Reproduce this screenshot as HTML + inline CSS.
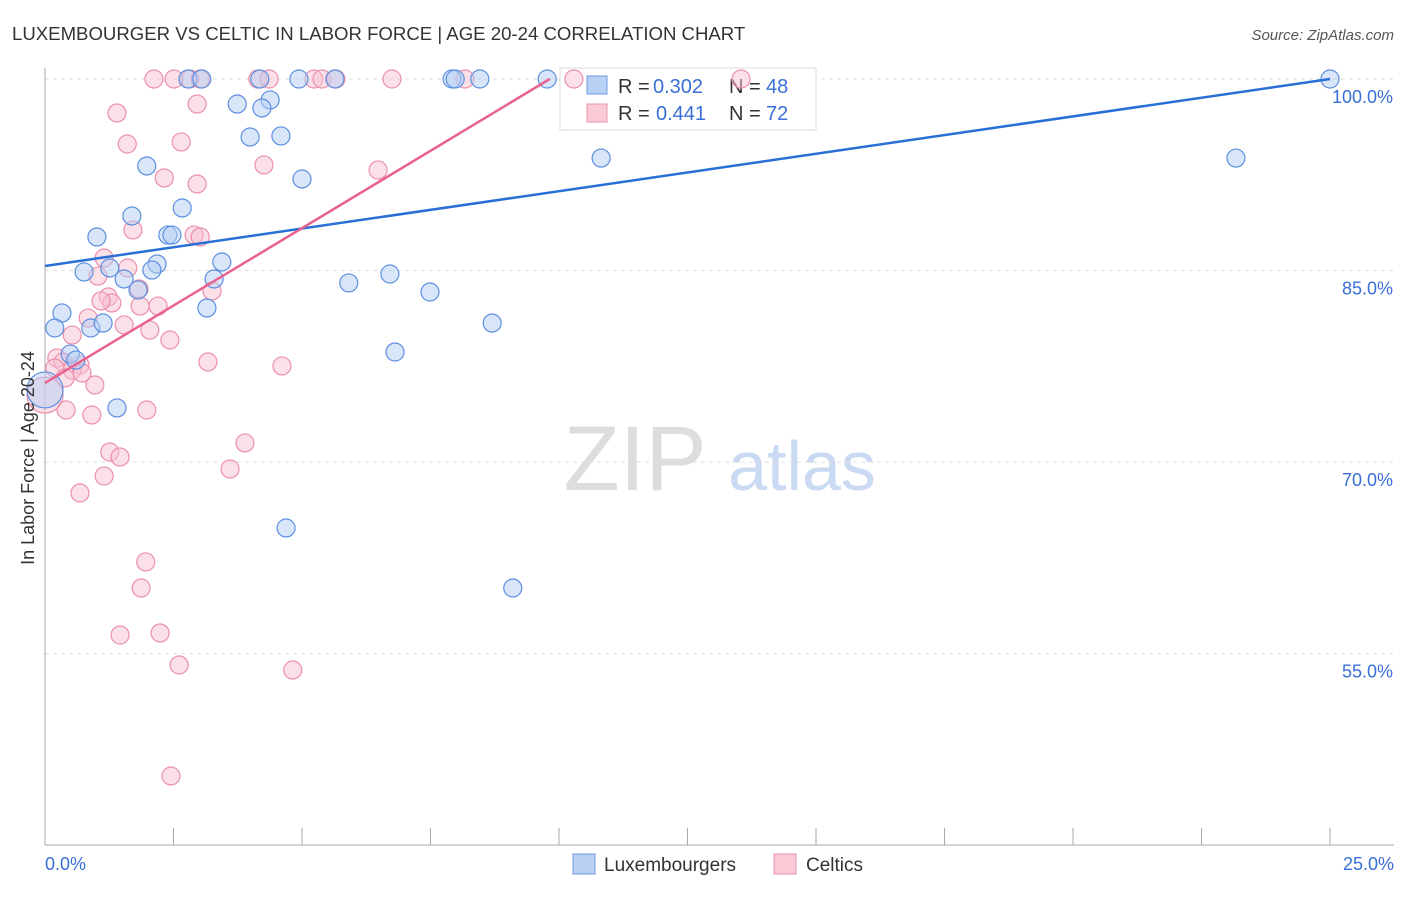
<!DOCTYPE html>
<html><head><meta charset="utf-8"><style>
body{margin:0;background:#fff;font-family:"Liberation Sans",sans-serif}
svg text{font-family:"Liberation Sans",sans-serif}
</style></head><body>
<svg id="chart" width="1406" height="892" xmlns="http://www.w3.org/2000/svg">
<text x="12" y="40" font-size="18.6" fill="#333">LUXEMBOURGER VS CELTIC IN LABOR FORCE | AGE 20-24 CORRELATION CHART</text>
<text x="1394" y="40" font-size="15" fill="#555" font-style="italic" text-anchor="end">Source: ZipAtlas.com</text>
<g>
<text x="635" y="490" font-size="92" fill="#ddd" font-family="Liberation Serif" text-anchor="middle">ZIP</text>
<text x="802" y="490" font-size="70" fill="#c9daf2" text-anchor="middle">atlas</text>
</g>
<g id="grid"></g><g id="axes"></g>
<g>
<rect x="560" y="68" width="256" height="62" fill="#fff" stroke="#ddd"/>
<rect x="587" y="76" width="20" height="18" fill="#b8d0f4" stroke="#6d9be0"/>
<rect x="587" y="104" width="20" height="18" fill="#f9c9d6" stroke="#ec94ae"/>
<text x="618" y="93" font-size="20" fill="#333">R =</text>
<text x="653" y="93" font-size="20" fill="#3a6fd8">0.302</text>
<text x="729" y="93" font-size="20" fill="#333">N =</text>
<text x="766" y="93" font-size="20" fill="#3a6fd8">48</text>
<text x="618" y="120" font-size="20" fill="#333">R =</text>
<text x="656" y="120" font-size="20" fill="#3a6fd8">0.441</text>
<text x="729" y="120" font-size="20" fill="#333">N =</text>
<text x="766" y="120" font-size="20" fill="#3a6fd8">72</text>
</g>
<g id="pts"></g><g id="lines"></g>
<text x="34" y="458" font-size="18" fill="#333" text-anchor="middle" transform="rotate(-90 34 458)">In Labor Force | Age 20-24</text>
<g>
<rect x="573" y="854" width="22" height="20" fill="#b8d0f4" stroke="#6d9be0"/>
<text x="604" y="871" font-size="19" fill="#333">Luxembourgers</text>
<rect x="774" y="854" width="22" height="20" fill="#f9c9d6" stroke="#ec94ae"/>
<text x="806" y="871" font-size="19" fill="#333">Celtics</text>
</g>
</svg>
<script>
const yTicks=[100,85,70,55];
const yTickLabels=["100.0%","85.0%","70.0%","55.0%"];
const xTicks=[0,2.5,5,7.5,10,12.5,15,17.5,20,22.5,25];
const blueX=[2.78,3.05,4.18,4.94,5.64,7.92,7.98,8.46,9.77,25.0,3.74,4.38,4.22,3.99,4.59,10.82,23.17,1.98,5.0,2.67,1.69,1.01,2.39,2.47,2.18,1.26,2.08,0.76,3.44,1.54,3.29,1.81,5.91,6.71,7.49,3.15,0.33,0.19,0.89,1.13,8.7,6.81,0.49,0.6,1.4,4.69,9.1,0];
const blueY=[100,100,100,100,100,100,100,100,100,100,98.04,98.36,97.73,95.46,95.54,93.81,93.81,93.19,92.17,89.9,89.27,87.63,87.78,87.78,85.51,85.2,85.04,84.89,85.67,84.34,84.34,83.48,84.03,84.73,83.32,82.07,81.68,80.5,80.5,80.89,80.89,78.62,78.46,77.99,74.24,64.84,60.14,75.65];
const pinkX=[2.12,2.51,2.82,3.02,4.14,4.36,5.23,5.39,5.66,6.75,8.17,10.29,13.54,1.4,2.96,1.6,2.65,2.32,2.96,4.26,6.48,1.71,2.9,3.02,1.15,1.61,1.03,1.23,1.3,1.09,1.83,2.2,1.85,3.25,0.84,1.54,2.04,0.53,2.43,0.23,0.35,0.68,0.53,0.19,0.72,3.17,4.61,0.39,0.97,0.41,0.91,1.98,3.89,1.26,1.46,1.15,3.6,0.68,1.96,1.87,1.46,2.24,2.61,4.82,2.45,0];
const pinkY=[100,100,100,100,100,100,100,100,100,100,100,100,100,97.34,98.04,94.91,95.07,92.25,91.78,93.27,92.87,88.18,87.78,87.63,85.98,85.2,84.57,82.93,82.46,82.62,83.56,82.22,82.22,83.4,81.28,80.74,80.34,79.95,79.56,78.15,77.84,77.6,77.21,77.37,76.98,77.84,77.53,76.59,76.04,74.08,73.69,74.08,71.5,70.79,70.4,68.91,69.46,67.58,62.18,60.14,56.46,56.62,54.11,53.72,45.42,75.25];
const blueTrend=[[0,85.36],[25,100]];
const pinkTrend=[[0,76.2],[9.82,100]];
const NS="http://www.w3.org/2000/svg";
const X=v=>45+v/25*1285, Y=v=>79+(100-v)*12.77;
function mk(t,a,p){const e=document.createElementNS(NS,t);for(const k in a)e.setAttribute(k,a[k]);p.appendChild(e);return e;}
const grid=document.getElementById('grid'),axes=document.getElementById('axes'),pts=document.getElementById('pts'),lines=document.getElementById('lines');
yTicks.forEach((t,i)=>{
 const l=mk('line',{x1:45,x2:1394,y1:Y(t),y2:Y(t),stroke:'#ddd','stroke-dasharray':'4 4'},grid);
 
 
 const tx=mk('text',{x:1393,y:Y(t)+24,'font-size':18,fill:'#3a6fd8','text-anchor':'end'},axes);
 tx.textContent=yTickLabels[i];
 
 
});
const ya=mk('line',{x1:45,x2:45,y1:68,y2:845,stroke:'#aaa'},axes);


const xa=mk('line',{x1:45,x2:1394,y1:845,y2:845,stroke:'#aaa'},axes);


xTicks.forEach(t=>{
 const l=mk('line',{x1:X(t),x2:X(t),y1:828,y2:845,stroke:'#aaa'},axes);
 
 
});
[[0,"0.0%","start",45],[25,"25.0%","end",1394]].forEach(d=>{
 const tx=mk('text',{x:d[3],y:870,'font-size':18,fill:'#3a6fd8','text-anchor':d[2]},axes);
 tx.textContent=d[1];
 
 
});
function dots(xs,ys,fill,stroke,name){
 xs.forEach((x,i)=>{
  const r=(x===0)?18:9;
  const c=mk('circle',{cx:X(x),cy:Y(ys[i]),r:r,fill:fill,'fill-opacity':0.5,stroke:stroke,'stroke-width':1.2},pts);
  
  
 });
}
dots(pinkX,pinkY,'#f7c2d1','#ec8fab','celtic-point');
dots(blueX,blueY,'#b3cdf3','#5c8fe0','luxembourger-point');
const bl=mk('line',{x1:X(blueTrend[0][0]),y1:Y(blueTrend[0][1]),x2:X(blueTrend[1][0]),y2:Y(blueTrend[1][1]),stroke:'#2a6fd6','stroke-width':2.5},lines);


const pl=mk('line',{x1:X(pinkTrend[0][0]),y1:Y(pinkTrend[0][1]),x2:X(pinkTrend[1][0]),y2:Y(pinkTrend[1][1]),stroke:'#e8628f','stroke-width':2.5},lines);


</script>
</body></html>
